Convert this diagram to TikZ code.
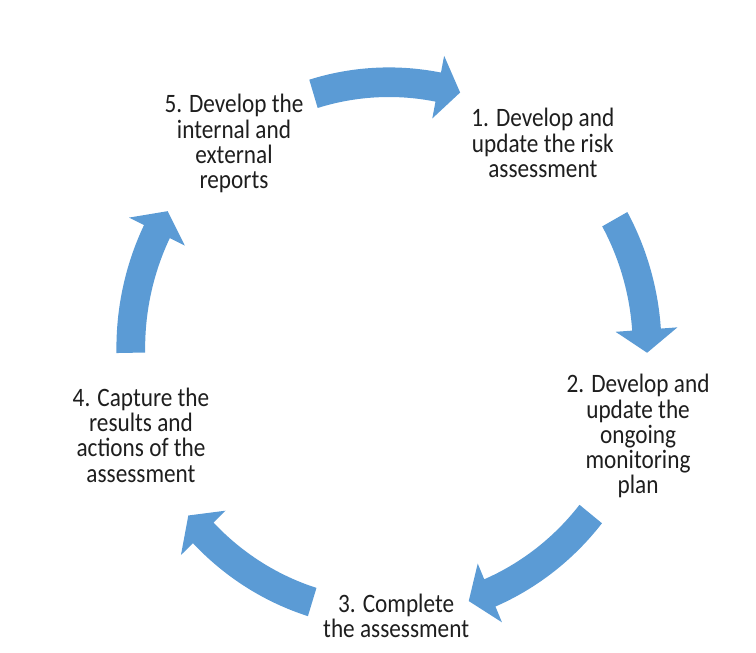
\documentclass[tikz,border=0pt]{standalone}
\usepackage{fontspec}
\setmainfont{Carlito}[FakeStretch=0.875]
\usetikzlibrary{positioning}
\definecolor{cycleblue}{RGB}{91,155,213}
\definecolor{steptext}{RGB}{30,30,30}

\begin{document}
\begin{tikzpicture}[
  steplabel/.style={align=center, text=steptext, inner sep=0pt,
    font=\fontsize{20}{19}\selectfont}
]
\useasboundingbox (0,0) rectangle (20,17.25);
\coordinate (c) at (10.29,8.04);
% five curved block arrows round the cycle (tail angle / tip angle)
\begin{scope}[shift={(c)}, yscale=1.03]
\foreach \a/\b in {107/74, 29/-1, -38.6/-72, 252.7/219, 181/149} {
  \fill[cycleblue] (\a:7.21) arc[start angle=\a, end angle=\b+5, radius=7.21]
    -- (\b+5:7.65) -- (\b:6.83) -- (\b+5:6.01) -- (\b+5:6.45)
    arc[start angle=\b+5, end angle=\a, radius=6.45] -- cycle;
}
\end{scope}
% step texts
\node[steplabel] (risk) at (14.36,13.47) {1. Develop and\\update the risk\\assessment};
\node[steplabel] (plan) at (16.88,5.71) {2. Develop and\\update the\\ongoing\\monitoring\\plan};
\node[steplabel] (complete) at (10.48,0.95) {3. Complete\\the assessment};
\node[steplabel] (capture) at (3.73,5.74) {4. Capture the\\results and\\actions of the\\assessment};
\node[steplabel] (reports) at (6.19,13.45) {5. Develop the\\internal and\\external\\reports};
\end{tikzpicture}
\end{document}
